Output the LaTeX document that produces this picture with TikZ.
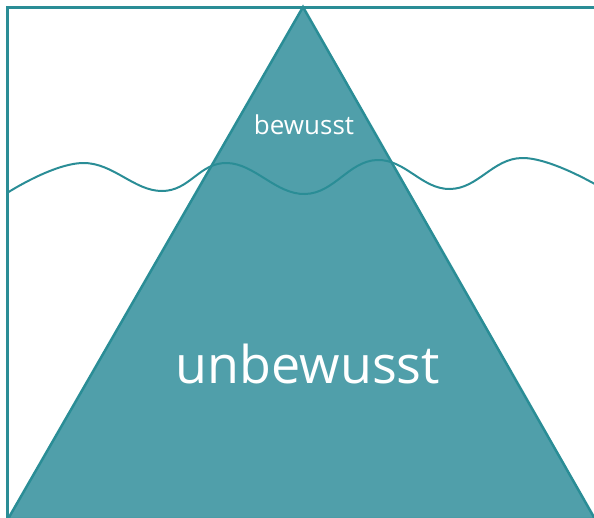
\documentclass[tikz,border=0pt]{standalone}
\usepackage{fontspec}
\setmainfont{Open Sans}
\definecolor{icefill}{HTML}{509FAA}
\definecolor{icestroke}{HTML}{2A8D96}
\begin{document}
\begin{tikzpicture}[x=1pt,y=-1pt,
  frameline/.style={draw=icestroke,line width=3pt},
  iceberg/.style={fill=icefill,draw=icestroke,line width=2.5pt,line join=miter},
  waterline/.style={draw=icestroke,line width=2pt},
  label/.style={text=white,anchor=base,inner sep=0pt}]
\useasboundingbox (0,0) rectangle (594,517);
\begin{scope}
\clip (0,0) rectangle (594,517);
\coordinate (apex) at (303,7);
\coordinate (bl) at (8,519);
\coordinate (br) at (595,519);
\path[iceberg] (apex) -- (br) -- (bl) -- cycle;
\draw[waterline] plot[smooth,tension=0.7] coordinates {(7,193) (83,163) (162,191) (227,163) (305,194) (377,160) (450,189) (522,158) (600,187)};
\coordinate (tl) at (7,7);
\coordinate (tr) at (600,7);
\coordinate (blf) at (7,520);
\draw[frameline] (blf) -- (tl) -- (tr);
\end{scope}
\node[label,font=\fontsize{26}{31}\selectfont] (bew) at (304,134) {bewusst};
\node[label,font=\fontsize{52}{62}\selectfont] (unbew) at (308,383) {unbewusst};
\end{tikzpicture}
\end{document}
